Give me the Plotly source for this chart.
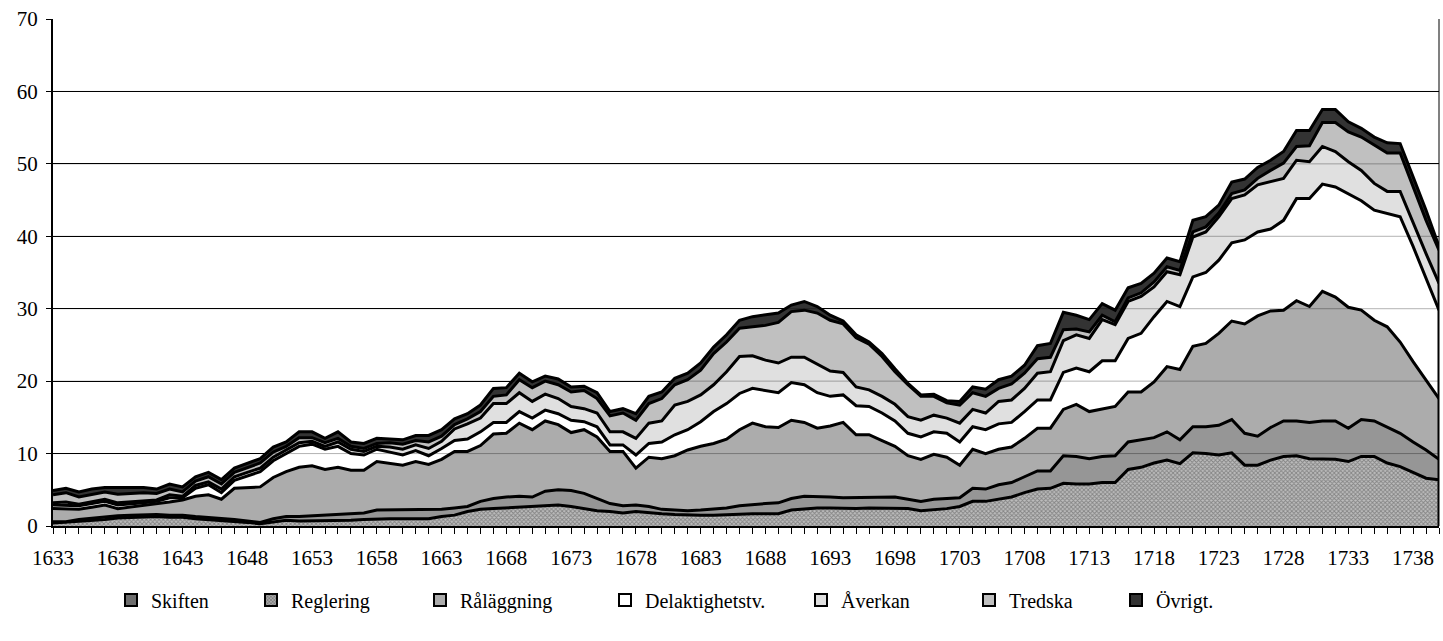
import plotly.graph_objects as go

years = list(range(1633, 1741))
tick_labels = [str(y) if (y - 1633) % 5 == 0 else "" for y in years]
y_ticks = [0, 10, 20, 30, 40, 50, 60, 70]

skiften = [0.4,0.5,0.7,0.8,0.9,1.1,1.2,1.3,1.3,1.2,
           1.2,1.0,0.9,0.8,0.7,0.5,0.3,0.6,0.8,0.7,
           0.7,0.8,0.8,0.8,0.9,1.0,1.0,1.0,1.0,1.0,
           1.3,1.5,2.0,2.3,2.4,2.5,2.7,2.8,2.9,2.9,
           2.7,2.4,2.1,2.0,1.8,2.0,1.8,1.7,1.6,1.5,
           1.5,1.5,1.6,1.7,1.7,1.7,1.7,2.2,2.4,2.5,
           2.5,2.4,2.4,2.5,2.5,2.5,2.4,2.1,2.2,2.4,
           2.7,3.4,3.4,3.7,4.0,4.6,5.1,5.2,5.9,5.8,
           5.8,6.0,6.0,7.8,8.1,8.7,9.1,8.6,10.1,10.0,
           9.8,10.1,8.4,8.4,9.1,9.6,9.7,9.3,9.2,9.2,
           8.9,9.6,9.6,8.7,8.2,7.4,6.6,6.4]

reglering = [0.2,0.1,0.2,0.3,0.3,0.3,0.3,0.3,0.3,0.3,
             0.3,0.3,0.3,0.2,0.2,0.2,0.2,0.4,0.5,0.6,
             0.7,0.7,0.8,0.9,0.9,1.2,1.2,1.2,1.2,1.2,
             1.0,1.0,0.7,1.1,1.4,1.5,1.4,1.2,1.9,2.1,
             2.2,2.1,1.7,1.1,1.0,0.9,0.9,0.6,0.6,0.6,
             0.7,0.8,0.9,1.1,1.3,1.4,1.5,1.6,1.7,1.6,
             1.5,1.5,1.5,1.5,1.5,1.5,1.3,1.3,1.5,1.4,
             1.2,1.8,1.7,2.0,2.0,2.2,2.5,2.4,3.8,3.8,
             3.5,3.6,3.7,3.8,3.8,3.5,3.9,3.3,3.6,3.7,
             4.1,4.6,4.4,4.0,4.5,4.9,4.8,5.0,5.3,5.3,
             4.6,5.1,4.9,5.0,4.6,4.2,3.9,2.8]

ralaggning = [1.8,1.8,1.4,1.5,1.7,1.0,1.1,1.2,1.5,1.8,
              2.1,2.8,3.1,2.7,4.3,4.6,4.9,5.7,6.2,6.8,
              6.9,6.3,6.5,6.0,5.9,6.7,6.4,6.2,6.7,6.3,
              6.9,7.8,7.6,7.7,8.9,8.8,10.1,9.3,9.7,9.0,
              8.0,8.8,8.5,7.2,7.5,5.1,6.8,7.0,7.5,8.4,
              8.8,9.1,9.5,10.5,11.2,10.6,10.4,10.8,10.2,9.4,
              9.8,10.4,8.7,8.6,7.8,7.0,6.0,5.8,6.2,5.7,
              4.5,5.4,4.9,4.9,4.9,5.3,5.9,5.9,6.4,7.2,
              6.5,6.6,6.8,6.9,6.6,7.7,9.0,9.7,11.1,11.5,
              12.7,13.6,15.1,16.6,16.1,15.3,16.6,16.0,17.9,17.1,
              16.7,15.1,13.9,13.8,12.6,11.1,9.7,8.4]

delaktighet = [0.5,0.5,0.5,0.5,0.5,0.5,0.4,0.4,0.3,0.6,
               0.3,1.1,1.4,0.9,1.1,1.6,2.1,2.3,2.5,2.9,
               3.0,2.8,2.9,2.3,2.1,1.7,1.6,1.4,1.5,1.2,
               1.5,1.5,1.7,1.9,1.6,1.5,1.6,1.6,1.5,1.5,
               1.7,1.1,1.4,0.9,0.9,1.8,1.9,2.3,2.9,2.8,
               3.4,4.4,4.9,5.0,4.8,5.0,4.8,5.2,5.2,4.9,
               4.1,3.8,4.0,3.9,3.8,3.5,3.1,3.1,3.1,3.3,
               3.2,3.1,3.3,3.5,3.4,3.7,3.9,3.9,5.1,5.0,
               5.5,6.6,6.3,7.4,8.1,9.0,9.0,8.7,9.6,9.8,
               10.1,10.8,11.6,11.6,11.3,12.4,14.1,14.9,14.8,15.2,
               15.7,15.1,15.2,15.7,17.3,15.9,14.0,12.2]

averkan = [0.3,0.4,0.2,0.3,0.3,0.3,0.3,0.3,0.2,0.4,
           0.2,0.4,0.4,0.5,0.5,0.5,0.5,0.5,0.5,0.5,
           0.4,0.4,0.6,0.6,0.5,0.4,0.7,0.8,0.8,1.0,
           1.0,1.6,2.1,1.9,2.6,2.6,2.6,2.3,2.2,2.1,
           1.9,1.8,1.9,1.8,1.8,2.3,2.8,2.9,4.1,3.9,
           3.7,3.7,4.4,5.1,4.5,4.2,4.1,3.5,3.8,4.0,
           3.5,3.1,2.6,2.3,2.3,2.3,2.3,2.3,2.3,2.1,
           2.6,2.4,2.3,3.1,3.1,3.2,3.7,3.9,4.4,4.6,
           4.6,5.7,5.0,5.1,5.1,4.1,4.1,4.4,5.5,5.6,
           6.0,6.1,6.2,6.5,6.5,5.8,5.3,5.1,5.2,4.9,
           4.4,4.2,3.7,3.0,3.5,3.2,3.4,3.7]

tredska = [1.1,1.3,1.0,1.0,1.0,1.2,1.2,1.1,0.9,0.8,
           0.6,0.6,0.7,0.7,0.6,0.6,0.7,0.7,0.5,0.7,
           0.5,0.5,0.5,0.4,0.4,0.4,0.6,0.7,0.6,0.9,
           0.7,0.6,0.7,0.9,1.0,1.2,1.8,1.9,1.8,1.9,
           2.0,2.5,2.0,2.2,2.6,2.5,2.7,3.1,2.8,3.0,
           3.4,4.3,4.1,3.9,4.0,4.8,5.6,6.3,6.5,7.0,
           7.0,6.7,6.8,6.3,5.5,4.5,4.4,3.3,2.6,2.1,
           2.5,2.3,2.3,1.8,2.2,2.1,2.0,2.0,1.5,0.8,
           0.9,0.6,0.4,0.5,0.5,0.7,0.7,0.6,0.7,0.7,
           0.5,0.7,0.7,0.9,1.6,2.1,1.9,2.2,3.3,4.0,
           4.1,4.6,5.3,5.3,5.3,5.0,4.6,4.6]

ovrigt = [0.6,0.6,0.7,0.7,0.6,0.9,0.7,0.7,0.6,0.7,
          0.7,0.6,0.6,0.6,0.6,0.6,0.6,0.7,0.6,0.8,
          0.8,0.6,0.9,0.6,0.7,0.7,0.5,0.6,0.7,0.9,
          0.9,0.8,0.7,0.9,1.1,1.0,0.9,0.8,0.7,0.8,
          0.7,0.6,0.8,0.6,0.6,0.9,1.0,0.9,0.9,0.9,
          1.0,0.9,1.0,1.1,1.4,1.4,1.3,0.9,1.2,0.9,
          0.7,0.4,0.4,0.3,0.4,0.4,0.2,0.2,0.3,0.3,
          0.5,0.8,1.0,1.2,1.1,1.1,1.8,1.9,2.4,1.9,
          1.7,1.6,1.6,1.4,1.3,1.2,1.2,1.2,1.6,1.4,
          1.1,1.6,1.5,1.5,1.4,1.6,2.2,2.1,1.8,1.8,
          1.4,1.2,1.1,1.4,1.3,1.4,1.4,0.5]

series_names = ["Skiften", "Reglering", "Råläggning", "Delaktighetstv.",
                "Åverkan", "Tredska", "Övrigt."]
series_values = [skiften, reglering, ralaggning, delaktighet, averkan, tredska, ovrigt]
fill_colors = ["#a8a8a8", "#969696", "#acacac", "#ffffff", "#e0e0e0", "#c0c0c0", "#333333"]
legend_key_centers = [135, 275, 444, 629, 825, 993, 1140]

FONT = "Liberation Serif"
pattern = dict(shape="x", fgcolor="#4a4a4a", bgcolor="#bdbdbd", size=3, solidity=0.5)

fig = go.Figure()
for i, (name, vals, col) in enumerate(zip(series_names, series_values, fill_colors)):
    kw = {}
    if i == 0:
        kw["fillpattern"] = pattern
    fig.add_trace(go.Scatter(
        x=years, y=vals, name=name, stackgroup="one", mode="lines",
        line=dict(color="black", width=3), fillcolor=col,
        showlegend=False, hoverinfo="x+y+name", **kw))

# legend-only entries (square keys)
legend_colors = ["#6e6e6e", "#969696", "#acacac", "#ffffff", "#e0e0e0", "#c0c0c0", "#333333"]
for i, (name, col) in enumerate(zip(series_names, legend_colors)):
    mk = dict(color=col, line=dict(color="black", width=2))
    if i == 1:
        mk["pattern"] = dict(shape="x", fgcolor="#444", bgcolor="#aaa", size=3, solidity=0.5)
    lg = "legend" if i == 0 else f"legend{i+1}"
    fig.add_trace(go.Bar(x=[None], y=[None], name=name, marker=mk,
                         showlegend=True, legend=lg))

W, H = 1443, 641
ml, mr, mt, mb = 53, 4, 19, 115
pw = W - ml - mr
ph = H - mt - mb

legend_layouts = {}
for i, cx in enumerate(legend_key_centers):
    key = "legend" if i == 0 else f"legend{i+1}"
    legend_layouts[key] = dict(
        x=(cx - 24 - ml) / pw, y=(526 - 600) / ph, xanchor="left", yanchor="middle",
        orientation="h", bgcolor="rgba(0,0,0,0)", itemwidth=30,
        font=dict(family=FONT, size=20, color="black"))

fig.update_layout(
    width=W, height=H,
    margin=dict(l=ml, r=mr, t=mt, b=mb, autoexpand=False),
    plot_bgcolor="white", paper_bgcolor="white",
    font=dict(family=FONT, size=21, color="black"),
    showlegend=True,
    **legend_layouts,
)

fig.update_xaxes(
    range=[years[0], years[-1]], tickmode="array", tickvals=years, ticktext=tick_labels,
    ticks="outside", ticklen=6, tickwidth=1, tickcolor="black",
    showline=True, linecolor="black", linewidth=2, showgrid=False, zeroline=False,
    tickfont=dict(family=FONT, size=21, color="black"), ticklabelstandoff=6,
    automargin=False,
)
fig.update_yaxes(
    range=[0, 70], tickmode="array", tickvals=y_ticks,
    ticks="outside", ticklen=5, tickwidth=1, tickcolor="black",
    showline=True, linecolor="black", linewidth=2,
    showgrid=True, gridcolor="black", gridwidth=1, zeroline=False,
    tickfont=dict(family=FONT, size=21, color="black"), ticklabelstandoff=4,
    automargin=False,
)

# gridlines visible through the filled areas
for v in y_ticks[1:-1]:
    fig.add_shape(type="line", xref="paper", x0=0, x1=1, yref="y", y0=v, y1=v,
                  line=dict(color="rgba(0,0,0,0.3)", width=1), layer="above")

# right closing edge of the stacked areas
total_last = sum(s[-1] for s in series_values)
fig.add_shape(type="line", xref="x", x0=years[-1], x1=years[-1], yref="y", y0=0, y1=total_last,
              line=dict(color="black", width=3), layer="above")
# plot-area right border
fig.add_shape(type="line", xref="paper", x0=1, x1=1, yref="paper", y0=0, y1=1,
              line=dict(color="#808080", width=2), layer="below")

fig.write_html(
    "out.html",
    config={"displayModeBar": False},
    post_script="document.body.style.margin='0';document.body.style.padding='0';"
                "document.body.style.overflow='hidden';",
)
